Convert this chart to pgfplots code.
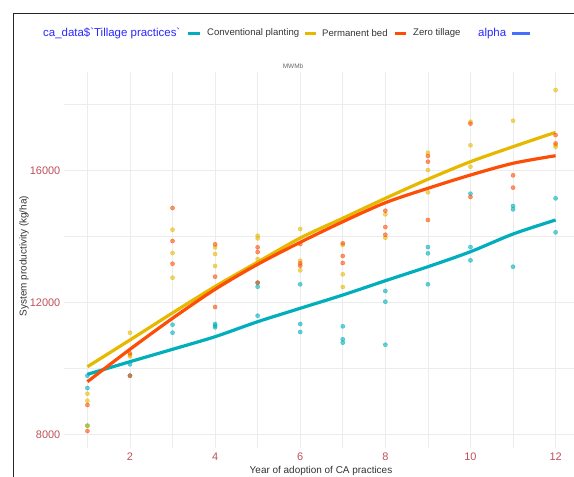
\documentclass[border=0pt]{standalone}
\usepackage{pgfplots}
\pgfplotsset{compat=1.18}
\usepackage{fontspec}
\setmainfont{Liberation Sans}
\newfontfamily\rawfont{Liberation Sans}
\definecolor{cteal}{HTML}{00AFBB}
\definecolor{cyel}{HTML}{E7B800}
\definecolor{corg}{HTML}{FC4E07}
\definecolor{ticklab}{RGB}{190,80,90}
\definecolor{legblue}{RGB}{40,40,255}
\definecolor{keyblue}{RGB}{70,110,255}
\definecolor{gridc}{RGB}{236,236,236}
\begin{document}
\begin{tikzpicture}[x=1bp,y=1bp]
\path[use as bounding box] (0bp,0bp) rectangle (574bp,477bp);
\clip (0bp,0bp) rectangle (574bp,477bp);
\begin{axis}[
  at={(64bp,29bp)}, anchor=south west,
  scale only axis, width=515bp, height=376bp,
  xmin=0.45, xmax=12.55, ymin=7597, ymax=18991,
  axis line style={draw=none},
  major tick length=0pt, minor tick length=0pt,
  xtick={2,4,6,8,10,12}, ytick={8000,12000,16000},
  minor xtick={1,3,5,7,9,11}, minor ytick={10000,14000,18000},
  scaled y ticks=false,
  grid=both,
  major grid style={gridc, line width=0.9bp},
  minor grid style={gridc, line width=0.7bp},
  /pgf/number format/assume math mode=true,
  /pgf/number format/1000 sep={},
  tick label style={font=\fontsize{11}{12}\selectfont, text=ticklab},
  yticklabel style={inner sep=0pt, xshift=-3.5bp},
  xticklabel style={inner sep=0pt, yshift=-5bp},
  clip=false,
]
\addplot[only marks, mark=*, mark size=2.1bp, color=cteal, opacity=0.6] coordinates {
(1,9788)(1,9415)(1,8273)(2,10133)(2,9788)(3,11333)(3,11091)(4,11354)(4,11303)(4,11254)
(5,12606)(5,12485)(5,11606)(6,12557)(6,11354)(6,11112)(7,11284)(7,10891)(7,10788)
(8,12354)(8,12030)(8,10727)(9,13687)(9,13496)(9,12557)(10,15303)(10,13687)(10,13284)
(11,14930)(11,14830)(11,13090)(12,15163)(12,14133)};
\addplot[only marks, mark=*, mark size=2.1bp, color=cyel, opacity=0.6] coordinates {
(1,9242)(1,9030)(1,8273)(2,11090)(2,10415)(2,10375)(3,14212)(3,13505)(3,12757)
(4,13678)(4,13475)(4,13112)(5,14030)(5,13950)(5,13324)(6,14233)(6,13272)(6,12981)
(7,13748)(7,12860)(7,12475)(8,14678)(8,13969)(9,16545)(9,16021)(9,15345)
(10,17484)(10,16769)(10,16121)(11,17514)(12,18445)(12,16775)(12,16723)};
\addplot[only marks, mark=*, mark size=2.1bp, color=corg, opacity=0.6] coordinates {
(1,8900)(1,8112)(2,10466)(2,9788)(3,14869)(3,13869)(3,13181)(4,13769)(4,12788)(4,11869)
(5,13678)(5,13536)(5,12606)(6,13778)(6,13193)(6,13121)(7,13800)(7,13415)(7,13203)
(8,14787)(8,14293)(8,14060)(9,16445)(9,16273)(9,14506)(10,17424)(10,15203)
(11,15860)(11,15487)(12,17078)(12,16827)};
\addplot[cteal, line width=3.2bp, smooth, no marks] coordinates {
(1,9830)(2,10212)(3,10588)(4,10970)(5,11424)(6,11830)(7,12233)(8,12666)(9,13090)(10,13545)(11,14081)(12,14506)};
\addplot[cyel, line width=3.2bp, smooth, no marks] coordinates {
(1,10060)(2,10870)(3,11690)(4,12490)(5,13230)(6,13960)(7,14560)(8,15163)(9,15740)(10,16273)(11,16727)(12,17163)};
\addplot[corg, line width=3.2bp, smooth, no marks] coordinates {
(1,9606)(2,10588)(3,11527)(4,12406)(5,13163)(6,13830)(7,14454)(8,15030)(9,15466)(10,15869)(11,16224)(12,16454)};
\end{axis}
% axis titles
\node[rotate=90, text=black!80, font=\fontsize{10}{12}\selectfont] at (24bp,221bp) {System productivity (kg/ha)};
\node[text=black!80, font=\fontsize{10}{12}\selectfont] at (321bp,6bp) {Year of adoption of CA practices};
\node[text=black!60, font=\fontsize{6.5}{8}\selectfont] at (293bp,411bp) {MWMb};
% legend
\node[anchor=west, inner sep=0pt, text=legblue, font=\rawfont\fontsize{11.5}{13}\selectfont] at (43bp,443.5bp) {ca\_data\$`Tillage practices`};
\draw[cteal, line width=3bp] (188bp,443.5bp) -- (200bp,443.5bp);
\node[anchor=west, inner sep=0pt, text=black!80, font=\fontsize{9.6}{11}\selectfont] at (207bp,443.5bp) {Conventional planting};
\draw[cyel, line width=3bp] (305bp,443.5bp) -- (316bp,443.5bp);
\node[anchor=west, inner sep=0pt, text=black!80, font=\fontsize{9.6}{11}\selectfont] at (322bp,443.5bp) {Permanent bed};
\draw[corg, line width=3bp] (395bp,443.5bp) -- (406bp,443.5bp);
\node[anchor=west, inner sep=0pt, text=black!80, font=\fontsize{9.6}{11}\selectfont] at (413bp,443.5bp) {Zero tillage};
\node[anchor=west, inner sep=0pt, text=legblue, font=\fontsize{11.5}{13}\selectfont] at (478bp,443.5bp) {alpha};
\draw[keyblue, line width=3bp] (512bp,443.5bp) -- (530bp,443.5bp);
% frame
\draw[black!85, line width=1.6bp] (13.5bp,0bp) -- (13.5bp,463.5bp) -- (580bp,463.5bp);
\end{tikzpicture}
\end{document}
